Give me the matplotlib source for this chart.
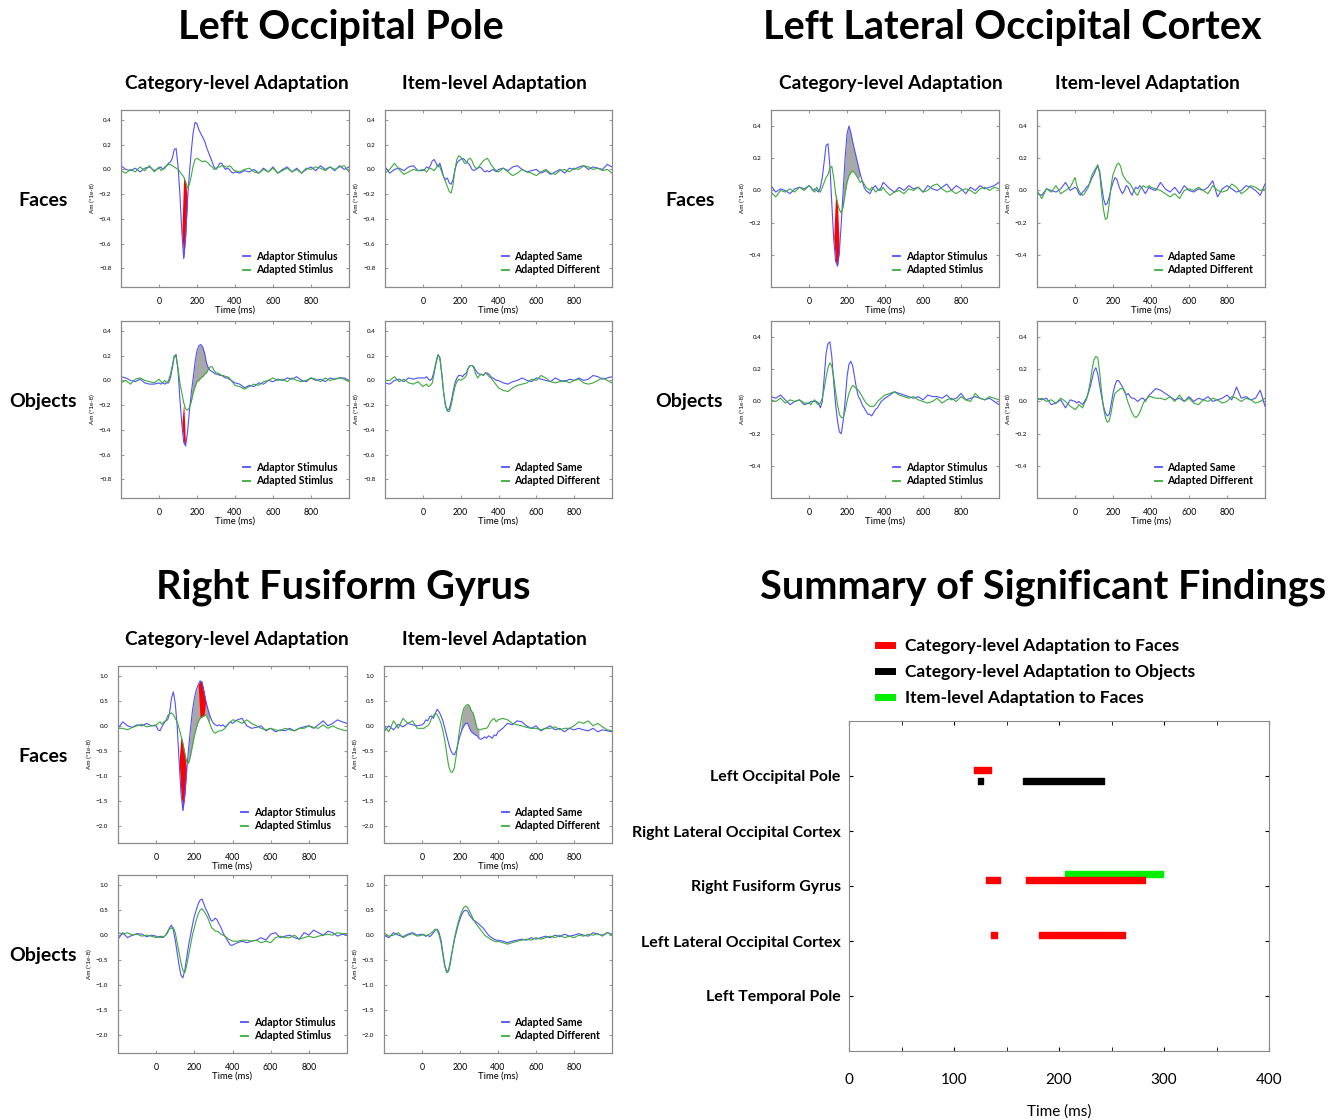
import numpy as np
import matplotlib
matplotlib.use('Agg')
import matplotlib.pyplot as plt
from matplotlib.lines import Line2D

plt.rcParams['font.family'] = ['Lato', 'DejaVu Sans']

# sample grid (ms): coarse before 0, 10 ms through the response, coarse after 400
T_MS = np.concatenate([np.arange(-200, 0, 25), np.arange(0, 401, 10), np.arange(425, 1001, 25)])

# ---- Left Occipital Pole ----
LOP_FACE_CAT_ADAPTOR = [
    0.03, 0.00, -0.01, 0.01, -0.02, 0.01, 0.02, -0.01,
    0.01, 0.02, 0.00, 0.01, 0.03, 0.05, 0.06, 0.09, 0.16, 0.17,
    0.03, -0.20, -0.50, -0.72, -0.55, -0.25, -0.03, 0.15, 0.30, 0.38,
    0.37, 0.32, 0.29, 0.26, 0.23, 0.18, 0.14, 0.10, 0.06, 0.02,
    0.00, 0.02, 0.05, 0.05, 0.02, 0.00, 0.01, 0.00, -0.02, -0.03,
    -0.02,
    -0.03, -0.01, -0.02, 0.00, -0.03, 0.01, -0.02, 0.02, -0.03, 0.00, 0.02, -0.02,
    0.01, -0.03, 0.00, 0.02, -0.01, 0.03, 0.00, 0.02, -0.01, 0.03, 0.00, 0.02]
LOP_FACE_CAT_ADAPTED = [
    -0.01, -0.03, 0.00, -0.02, 0.02, -0.01, 0.03, -0.02,
    0.02, -0.01, 0.00, 0.02, 0.03, 0.04, 0.04, 0.03, 0.02, 0.01,
    0.00, -0.02, -0.04, -0.06, -0.10, -0.15, -0.12, -0.05, 0.03, 0.08,
    0.09, 0.08, 0.07, 0.06, 0.07, 0.06, 0.05, 0.03, 0.02, 0.00,
    0.01, 0.02, 0.02, 0.03, 0.03, 0.02, 0.02, 0.03, 0.02, 0.00,
    -0.01,
    -0.02, 0.00, 0.01, -0.02, -0.03, 0.00, -0.02, 0.01, -0.03, -0.01, 0.01, -0.02,
    0.00, -0.03, 0.01, 0.00, 0.02, 0.01, -0.01, 0.02, 0.00, 0.02, 0.03, -0.02]
LOP_FACE_ITEM_SAME = [
    0.02, -0.03, 0.00, 0.01, -0.01, 0.02, 0.03, -0.01,
    -0.01, 0.00, 0.02, 0.01, 0.03, 0.07, 0.08, 0.05, 0.02, 0.05,
    0.00, -0.06, -0.08, -0.07, -0.11, -0.12, -0.08, 0.00, 0.05, 0.07,
    0.08, 0.09, 0.08, 0.06, 0.05, 0.03, 0.00, -0.01, 0.00, 0.01,
    0.02, 0.01, -0.01, -0.02, -0.01, -0.02, -0.01, 0.00, -0.01, -0.02,
    0.00,
    0.01, -0.01, 0.02, 0.03, 0.00, -0.02, -0.01, 0.00, -0.03, -0.01, -0.04, -0.02,
    0.00, -0.03, 0.01, 0.00, 0.02, 0.03, 0.00, 0.02, 0.01, 0.00, 0.04, 0.02]
LOP_FACE_ITEM_DIFF = [
    -0.03, 0.00, 0.05, 0.00, -0.04, -0.02, 0.00, -0.01,
    0.00, -0.01, -0.02, 0.00, 0.01, 0.00, -0.01, 0.01, 0.04, 0.02,
    -0.02, -0.06, -0.10, -0.14, -0.18, -0.19, -0.12, 0.00, 0.08, 0.11,
    0.10, 0.08, 0.05, 0.05, 0.08, 0.09, 0.07, 0.03, 0.01, 0.01,
    0.03, 0.05, 0.07, 0.08, 0.09, 0.07, 0.04, 0.02, 0.00, -0.01,
    -0.02,
    0.01, -0.02, -0.05, -0.03, 0.00, -0.02, -0.03, -0.05, -0.02, 0.00, -0.03, -0.04,
    -0.01, 0.00, -0.02, 0.01, 0.00, 0.03, 0.02, 0.00, 0.01, -0.01, 0.00, -0.03]
LOP_OBJ_CAT_ADAPTOR = [
    0.03, 0.02, 0.00, -0.01, 0.01, -0.02, -0.03, -0.03,
    -0.02, -0.03, -0.02, -0.03, -0.02, -0.02, 0.02, 0.10, 0.19, 0.21,
    0.08, -0.15, -0.35, -0.50, -0.53, -0.42, -0.25, -0.10, 0.02, 0.15,
    0.24, 0.28, 0.29, 0.27, 0.22, 0.14, 0.10, 0.08, 0.07, 0.06,
    0.05, 0.05, 0.04, 0.04, 0.03, 0.02, 0.02, 0.01, 0.00, -0.01,
    -0.02,
    -0.03, -0.06, -0.04, -0.05, -0.02, -0.03, 0.00, -0.01, 0.01, 0.00, 0.02, 0.01,
    0.03, 0.00, -0.01, 0.02, 0.00, 0.01, -0.01, 0.02, 0.01, 0.02, 0.02, 0.00]
LOP_OBJ_CAT_ADAPTED = [
    -0.02, 0.00, -0.03, 0.01, 0.02, 0.00, -0.01, -0.02,
    0.01, -0.01, -0.02, 0.00, -0.02, 0.00, 0.05, 0.12, 0.20, 0.19,
    0.10, -0.02, -0.10, -0.18, -0.23, -0.24, -0.22, -0.17, -0.10, -0.05,
    -0.01, 0.00, 0.02, 0.03, 0.05, 0.06, 0.09, 0.11, 0.11, 0.08,
    0.06, 0.06, 0.05, 0.04, 0.04, 0.03, 0.03, 0.02, 0.00, -0.02,
    -0.04,
    -0.05, -0.07, -0.05, -0.03, -0.04, -0.01, 0.00, 0.02, 0.00, 0.01, -0.01, 0.02,
    0.00, -0.01, 0.00, 0.02, 0.01, -0.01, 0.02, 0.00, 0.01, 0.02, 0.01, -0.01]
LOP_OBJ_ITEM_SAME = [
    -0.02, -0.03, 0.00, 0.01, -0.01, 0.02, 0.01, 0.02,
    0.02, 0.02, 0.03, 0.01, 0.00, 0.02, 0.08, 0.15, 0.21, 0.18,
    0.05, -0.10, -0.20, -0.24, -0.23, -0.17, -0.09, -0.02, 0.02, 0.04,
    0.04, 0.03, 0.05, 0.06, 0.10, 0.12, 0.12, 0.11, 0.08, 0.06,
    0.05, 0.05, 0.04, 0.06, 0.06, 0.05, 0.03, 0.02, 0.01, 0.00,
    0.00,
    -0.02, -0.03, -0.01, 0.00, 0.02, 0.00, -0.01, 0.02, 0.01, 0.00, -0.01, 0.02,
    0.00, -0.01, 0.01, 0.00, 0.02, 0.00, 0.01, 0.04, 0.03, 0.01, 0.02, 0.03]
LOP_OBJ_ITEM_DIFF = [
    0.00, 0.00, 0.03, -0.01, 0.01, -0.02, -0.03, -0.01,
    -0.05, -0.04, -0.03, -0.05, -0.04, -0.02, 0.06, 0.14, 0.20, 0.19,
    0.06, -0.10, -0.21, -0.25, -0.25, -0.20, -0.12, -0.05, -0.01, 0.01,
    0.00, 0.01, 0.02, 0.04, 0.10, 0.12, 0.12, 0.10, 0.05, 0.02,
    0.04, 0.05, 0.04, 0.06, 0.05, 0.03, 0.02, 0.00, -0.02, -0.04,
    -0.06,
    -0.08, -0.09, -0.06, -0.04, -0.03, -0.02, 0.01, 0.00, 0.04, 0.02, -0.01, -0.02,
    -0.01, 0.00, -0.02, 0.00, 0.01, -0.02, -0.03, -0.02, 0.00, 0.02, 0.00, -0.02]

# ---- Left Lateral Occipital Cortex ----
LLOC_FACE_CAT_ADAPTOR = [
    0.03, -0.01, 0.01, 0.00, -0.02, 0.01, 0.02, 0.01,
    0.03, 0.02, 0.00, 0.01, 0.00, -0.01, 0.02, 0.08, 0.18, 0.28,
    0.29, 0.15, -0.08, -0.30, -0.44, -0.47, -0.38, -0.20, 0.00, 0.20,
    0.35, 0.40, 0.36, 0.30, 0.25, 0.20, 0.15, 0.10, 0.06, 0.02,
    0.00, -0.01, -0.02, 0.00, 0.02, 0.03, 0.01, 0.00, 0.02, 0.05,
    0.04,
    0.01, -0.01, 0.02, 0.00, 0.03, 0.01, 0.02, -0.01, 0.03, 0.01, 0.00, 0.02,
    0.04, 0.00, 0.03, 0.01, -0.02, 0.02, 0.00, 0.03, 0.01, 0.02, 0.03, 0.05]
LLOC_FACE_CAT_ADAPTED = [
    -0.01, -0.04, 0.00, -0.01, 0.01, -0.01, 0.02, 0.00,
    0.03, 0.02, 0.00, -0.01, 0.02, 0.00, -0.01, 0.02, 0.05, 0.08,
    0.10, 0.14, 0.15, 0.08, -0.02, -0.08, -0.12, -0.14, -0.10, -0.02,
    0.05, 0.09, 0.11, 0.12, 0.11, 0.09, 0.07, 0.05, 0.06, 0.04,
    0.02, 0.01, 0.00, 0.02, 0.01, -0.01, 0.00, 0.01, 0.00, 0.02,
    0.00,
    -0.03, -0.01, 0.00, -0.02, 0.01, 0.00, 0.02, -0.01, 0.00, 0.03, 0.04, 0.01,
    -0.01, 0.00, -0.02, 0.00, 0.01, 0.00, -0.02, 0.01, 0.02, 0.00, 0.02, 0.01]
LLOC_FACE_ITEM_SAME = [
    -0.02, -0.03, 0.01, 0.00, -0.01, 0.01, 0.05, 0.00,
    0.02, 0.01, -0.02, -0.03, -0.01, 0.00, 0.02, 0.03, 0.05, 0.08,
    0.10, 0.13, 0.15, 0.12, 0.03, -0.05, -0.09, -0.08, -0.04, 0.01,
    0.05, 0.08, 0.07, 0.03, 0.00, -0.02, 0.00, 0.03, 0.02, -0.01,
    -0.03, 0.00, 0.02, 0.01, 0.03, 0.02, 0.00, -0.02, 0.00, 0.02,
    0.01,
    0.00, 0.05, 0.01, -0.01, 0.02, -0.02, 0.03, 0.00, -0.01, 0.01, 0.00, 0.02,
    0.06, -0.04, 0.01, 0.03, 0.01, -0.01, 0.00, 0.03, 0.02, 0.00, -0.03, 0.04]
LLOC_FACE_ITEM_DIFF = [
    0.00, -0.05, 0.01, -0.01, 0.03, -0.02, 0.00, 0.02,
    0.08, 0.03, 0.00, -0.02, -0.03, -0.02, 0.00, 0.02, 0.06, 0.10,
    0.12, 0.14, 0.16, 0.10, -0.02, -0.12, -0.18, -0.17, -0.08, 0.03,
    0.10, 0.13, 0.16, 0.17, 0.15, 0.10, 0.08, 0.06, 0.05, 0.04,
    0.02, 0.00, -0.02, -0.03, 0.00, 0.02, 0.03, 0.02, 0.02, 0.03,
    0.02,
    0.01, 0.00, -0.02, -0.04, -0.02, -0.05, 0.00, 0.01, 0.00, 0.02, 0.00, -0.02,
    0.03, 0.00, -0.01, 0.00, 0.04, 0.02, -0.02, 0.00, 0.03, 0.02, 0.00, 0.01]
LLOC_OBJ_CAT_ADAPTOR = [
    0.03, 0.02, 0.04, 0.01, -0.02, 0.00, 0.01, -0.02,
    -0.01, 0.00, 0.00, 0.00, 0.00, -0.01, -0.04, 0.00, 0.15, 0.30,
    0.36, 0.37, 0.28, 0.12, -0.02, -0.12, -0.19, -0.20, -0.12, 0.00,
    0.15, 0.23, 0.25, 0.22, 0.15, 0.08, 0.03, 0.01, -0.02, -0.04,
    -0.06, -0.08, -0.08, -0.09, -0.07, -0.05, -0.04, -0.02, 0.00, 0.01,
    0.02,
    0.04, 0.06, 0.05, 0.04, 0.03, 0.02, 0.03, 0.01, 0.04, 0.03, 0.03, 0.02,
    0.04, 0.01, 0.02, 0.05, 0.01, 0.02, 0.03, 0.02, 0.01, 0.02, 0.00, -0.02]
LLOC_OBJ_CAT_ADAPTED = [
    0.01, 0.00, 0.02, -0.01, 0.01, 0.00, 0.01, -0.01,
    -0.01, -0.02, 0.00, 0.01, -0.01, -0.02, -0.01, 0.02, 0.08, 0.15,
    0.21, 0.24, 0.22, 0.15, 0.06, -0.02, -0.08, -0.10, -0.10, -0.06,
    0.00, 0.05, 0.08, 0.10, 0.09, 0.08, 0.07, 0.05, 0.03, 0.01,
    -0.01, -0.02, -0.03, -0.03, -0.03, -0.02, 0.00, 0.01, 0.02, 0.03,
    0.04,
    0.05, 0.06, 0.04, 0.03, 0.02, 0.03, 0.01, 0.00, -0.01, 0.00, 0.02, -0.01,
    0.01, 0.02, 0.00, 0.03, 0.01, 0.00, 0.05, 0.02, 0.01, 0.03, 0.02, 0.01]
LLOC_OBJ_ITEM_SAME = [
    0.02, 0.01, 0.02, -0.02, -0.01, 0.01, -0.04, 0.01,
    0.00, -0.01, 0.00, -0.01, -0.02, 0.00, 0.02, 0.05, 0.09, 0.14,
    0.19, 0.21, 0.17, 0.10, 0.03, -0.03, -0.07, -0.09, -0.08, -0.02,
    0.05, 0.10, 0.13, 0.13, 0.11, 0.09, 0.06, 0.04, 0.05, 0.03,
    0.02, 0.02, 0.01, 0.00, 0.01, 0.02, 0.02, 0.00, 0.02, 0.04,
    0.05,
    0.08, 0.07, 0.05, 0.03, 0.01, 0.02, 0.00, 0.03, 0.00, 0.02, 0.01, 0.03,
    0.00, 0.01, 0.02, 0.04, 0.01, 0.09, 0.02, 0.03, 0.01, 0.02, 0.07, -0.03]
LLOC_OBJ_ITEM_DIFF = [
    0.01, 0.02, 0.00, 0.01, -0.01, 0.02, 0.00, -0.03,
    -0.05, -0.04, -0.02, -0.03, -0.04, -0.01, 0.01, 0.06, 0.12, 0.20,
    0.26, 0.28, 0.27, 0.18, 0.06, -0.04, -0.10, -0.13, -0.12, -0.07,
    0.00, 0.05, 0.06, 0.07, 0.08, 0.08, 0.07, 0.03, -0.01, -0.04,
    -0.07, -0.09, -0.10, -0.09, -0.07, -0.04, -0.01, 0.01, 0.02, 0.03,
    0.03,
    0.02, 0.02, 0.01, 0.03, 0.00, 0.04, 0.00, 0.02, -0.01, -0.02, 0.01, 0.00,
    0.02, 0.01, -0.01, 0.00, 0.03, 0.02, 0.00, 0.02, 0.01, -0.01, 0.00, 0.02]

# ---- Right Fusiform Gyrus ----
RFG_FACE_CAT_ADAPTOR = [
    -0.05, 0.08, 0.00, -0.03, 0.02, 0.00, 0.05, 0.00,
    0.00, -0.08, -0.10, -0.02, 0.05, 0.10, 0.12, 0.25, 0.55, 0.68,
    0.45, 0.00, -0.70, -1.35, -1.70, -1.40, -0.90, -0.45, -0.05, 0.30,
    0.55, 0.72, 0.82, 0.90, 0.88, 0.70, 0.50, 0.35, 0.22, 0.12,
    0.05, 0.02, 0.00, 0.02, 0.00, 0.02, -0.02, 0.00, 0.05, 0.08,
    0.05,
    0.12, 0.15, 0.00, -0.05, -0.03, 0.00, -0.10, -0.05, -0.12, -0.08, -0.10, -0.05,
    -0.10, -0.05, -0.02, 0.00, -0.05, 0.02, 0.10, 0.00, 0.05, 0.12, 0.08, 0.05]
RFG_FACE_CAT_ADAPTED = [
    -0.05, -0.05, -0.08, -0.03, 0.00, 0.03, -0.02, 0.00,
    0.02, 0.05, 0.08, 0.03, 0.08, 0.10, 0.20, 0.24, 0.26, 0.22,
    0.15, 0.08, -0.05, -0.20, -0.35, -0.55, -0.72, -0.75, -0.60, -0.40,
    -0.20, -0.05, 0.08, 0.15, 0.18, 0.20, 0.22, 0.15, 0.05, -0.05,
    -0.12, -0.15, -0.12, -0.10, -0.10, -0.08, -0.05, 0.00, 0.05, 0.08,
    0.12,
    0.10, 0.05, 0.12, 0.05, 0.00, -0.05, -0.08, -0.05, -0.08, -0.10, -0.05, -0.08,
    -0.10, -0.05, -0.05, 0.00, -0.03, -0.05, 0.02, -0.05, 0.00, -0.05, -0.08, -0.10]
RFG_FACE_ITEM_SAME = [
    -0.12, 0.00, -0.08, 0.03, -0.02, 0.05, 0.02, 0.00,
    0.02, 0.05, 0.12, 0.10, 0.18, 0.20, 0.15, 0.25, 0.33, 0.28,
    0.20, 0.10, -0.05, -0.20, -0.35, -0.48, -0.56, -0.58, -0.50, -0.35,
    -0.20, -0.08, 0.00, 0.05, 0.05, -0.05, -0.12, -0.15, -0.18, -0.20,
    -0.25, -0.27, -0.25, -0.22, -0.25, -0.20, -0.22, -0.25, -0.18, -0.20,
    -0.12,
    -0.05, 0.05, 0.02, 0.10, 0.08, 0.00, -0.05, 0.00, -0.10, -0.05, 0.00, -0.08,
    -0.05, -0.12, -0.05, -0.08, -0.05, -0.08, -0.10, -0.05, -0.12, -0.08, -0.10, -0.12]
RFG_FACE_ITEM_DIFF = [
    0.00, -0.12, 0.10, -0.05, 0.15, 0.05, 0.10, -0.05,
    -0.05, -0.05, -0.02, 0.00, 0.05, 0.15, 0.20, 0.25, 0.22, 0.15,
    0.05, -0.10, -0.30, -0.55, -0.80, -0.92, -0.93, -0.85, -0.60, -0.30,
    -0.02, 0.20, 0.35, 0.40, 0.43, 0.40, 0.30, 0.25, 0.10, -0.05,
    -0.08, -0.08, -0.06, -0.05, -0.05, 0.00, 0.08, 0.12, 0.15, 0.08,
    0.12,
    0.15, 0.12, 0.05, 0.02, 0.00, -0.03, -0.05, -0.05, -0.08, -0.05, -0.05, -0.02,
    -0.08, -0.05, -0.05, 0.00, 0.08, 0.05, 0.10, 0.00, 0.05, -0.02, -0.08, -0.10]
RFG_OBJ_CAT_ADAPTOR = [
    -0.08, 0.05, -0.05, 0.00, 0.03, 0.02, -0.03, 0.00,
    -0.02, -0.04, -0.02, -0.05, -0.03, 0.00, 0.05, 0.15, 0.20, 0.10,
    -0.10, -0.35, -0.60, -0.80, -0.85, -0.70, -0.45, -0.20, 0.00, 0.20,
    0.38, 0.50, 0.62, 0.70, 0.72, 0.62, 0.52, 0.45, 0.35, 0.28,
    0.30, 0.34, 0.30, 0.22, 0.15, 0.05, -0.02, -0.08, -0.15, -0.20,
    -0.20,
    -0.15, -0.12, -0.15, -0.12, -0.10, -0.05, -0.10, 0.02, 0.05, -0.05, -0.02, 0.00,
    -0.05, -0.08, 0.05, 0.00, 0.10, 0.05, 0.00, 0.08, 0.05, -0.02, 0.02, 0.00]
RFG_OBJ_CAT_ADAPTED = [
    0.05, 0.02, 0.05, 0.00, 0.02, -0.02, 0.00, -0.02,
    -0.05, -0.03, -0.05, -0.02, -0.04, 0.00, 0.08, 0.12, 0.14, 0.15,
    0.05, -0.15, -0.35, -0.55, -0.70, -0.75, -0.60, -0.40, -0.20, 0.00,
    0.15, 0.30, 0.42, 0.50, 0.53, 0.48, 0.42, 0.35, 0.25, 0.15,
    0.12, 0.08, 0.08, 0.05, 0.02, 0.00, -0.02, -0.05, -0.08, -0.10,
    -0.12,
    -0.12, -0.10, -0.10, -0.12, -0.10, -0.15, -0.12, -0.15, -0.05, -0.02, -0.05, -0.05,
    0.00, -0.08, -0.05, -0.02, -0.05, -0.02, 0.00, 0.02, 0.00, 0.05, 0.03, 0.03]
RFG_OBJ_ITEM_SAME = [
    0.00, -0.05, 0.05, 0.00, -0.03, 0.02, 0.05, 0.00,
    0.02, 0.00, -0.02, 0.00, -0.03, 0.00, 0.05, 0.10, 0.12, 0.05,
    -0.10, -0.35, -0.60, -0.72, -0.70, -0.50, -0.30, -0.10, 0.05, 0.20,
    0.32, 0.42, 0.48, 0.50, 0.48, 0.40, 0.35, 0.30, 0.28, 0.25,
    0.22, 0.18, 0.15, 0.10, 0.05, 0.00, -0.03, -0.06, -0.08, -0.10,
    -0.10,
    -0.12, -0.15, -0.12, -0.10, -0.08, -0.10, -0.05, -0.08, -0.05, -0.02, -0.05, 0.00,
    -0.03, 0.02, -0.02, 0.00, 0.03, 0.00, -0.02, 0.05, 0.02, 0.00, 0.05, 0.02]
RFG_OBJ_ITEM_DIFF = [
    0.05, -0.02, 0.00, 0.05, -0.05, 0.00, 0.03, -0.02,
    0.00, 0.02, -0.02, 0.00, 0.02, 0.05, 0.08, 0.12, 0.10, 0.00,
    -0.15, -0.40, -0.62, -0.75, -0.72, -0.55, -0.30, -0.08, 0.10, 0.25,
    0.38, 0.48, 0.55, 0.58, 0.55, 0.48, 0.40, 0.32, 0.25, 0.20,
    0.15, 0.10, 0.05, 0.00, -0.03, -0.05, -0.08, -0.10, -0.12, -0.13,
    -0.12,
    -0.15, -0.18, -0.15, -0.12, -0.10, -0.08, -0.10, -0.05, -0.08, -0.05, -0.02, -0.05,
    0.00, -0.05, -0.02, -0.05, 0.00, -0.02, 0.02, 0.00, 0.03, -0.02, 0.05, 0.00]

# significant windows (ms) marked on the waveforms
LOP_FACE_CAT_RED = [(122, 142)]
LOP_OBJ_CAT_RED = [(125, 132)]
LOP_OBJ_CAT_GRAY = [(168, 250)]
LLOC_FACE_CAT_RED = [(136, 150)]
LLOC_FACE_CAT_GRAY = [(180, 268)]
RFG_FACE_CAT_RED = [(126, 150), (230, 250)]
RFG_FACE_CAT_GRAY = [(165, 285)]
RFG_FACE_ITEM_GRAY = [(205, 300)]

# summary of significant findings
SUMMARY_REGIONS = ['Left Occipital Pole', 'Right Lateral Occipital Cortex', 'Right Fusiform Gyrus',
                   'Left Lateral Occipital Cortex', 'Left Temporal Pole']
FACE_CAT_REGION = ['Left Occipital Pole', 'Right Fusiform Gyrus', 'Right Fusiform Gyrus',
                   'Left Lateral Occipital Cortex', 'Left Lateral Occipital Cortex']
FACE_CAT_START = [119, 130, 169, 135, 181]
FACE_CAT_END = [135, 144, 282, 141, 263]
OBJ_CAT_REGION = ['Left Occipital Pole', 'Left Occipital Pole']
OBJ_CAT_START = [123, 166]
OBJ_CAT_END = [128, 243]
FACE_ITEM_REGION = ['Right Fusiform Gyrus']
FACE_ITEM_START = [206]
FACE_ITEM_END = [299]

BLUE = '#5050ff'
GREEN = '#3caa3c'
W, H = 1344, 1120

fig = plt.figure(figsize=(W / 100, H / 100), dpi=100)


def box(x0, y0, x1, y1):
    return [x0 / W, 1 - y1 / H, (x1 - x0) / W, (y1 - y0) / H]


def wave(rect, blue, green, names, ylim, yticks, red=(), gray=()):
    assert len(blue) == len(T_MS) and len(green) == len(T_MS)
    ax = fig.add_axes(box(*rect))
    b = np.array(blue)
    g = np.array(green)
    for a0, a1 in gray:
        m = (T_MS >= a0) & (T_MS <= a1)
        ax.fill_between(T_MS, b, g, where=m, color='#a8a8a8', lw=0, interpolate=True)
    for a0, a1 in red:
        m = (T_MS >= a0) & (T_MS <= a1)
        ax.fill_between(T_MS, b, g, where=m, color='#ff0000', lw=0, interpolate=True)
    ax.plot(T_MS, b, color=BLUE, lw=0.8)
    ax.plot(T_MS, g, color=GREEN, lw=0.8)
    ax.set_xlim(-200, 1000)
    ax.set_ylim(*ylim)
    ax.set_xticks([0, 200, 400, 600, 800])
    ax.set_yticks(yticks)
    ax.set_yticklabels(['{:.1f}'.format(v).replace('-', '\u2212') for v in yticks])
    ax.tick_params(axis='x', direction='in', length=2, top=True, labelsize=6.3, pad=7, color='#999999')
    ax.tick_params(axis='y', direction='in', length=2, right=True, labelsize=4.5, pad=7, color='#999999')
    for s in ax.spines.values():
        s.set_color('#8a8a8a')
        s.set_linewidth(0.9)
    ax.set_xlabel('Time (ms)', fontsize=6.8, labelpad=0)
    ax.set_ylabel('Am (*1e-8)', fontsize=4.5, labelpad=3)
    handles = [Line2D([], [], color=BLUE, lw=1.3), Line2D([], [], color=GREEN, lw=1.3)]
    ax.legend(handles, names, loc='lower right', frameon=False, handlelength=0.7, handletextpad=0.5,
              labelspacing=0.25, borderaxespad=0.7, prop={'size': 7.6, 'weight': 'bold'})
    return ax


LOP_Y = (-0.95, 0.48)
LOP_TICKS = [-0.8, -0.6, -0.4, -0.2, 0.0, 0.2, 0.4]
LLOC_Y = (-0.6, 0.5)
LLOC_TICKS = [-0.4, -0.2, 0.0, 0.2, 0.4]
RFG_Y = (-2.35, 1.2)
RFG_TICKS = [-2.0, -1.5, -1.0, -0.5, 0.0, 0.5, 1.0]
CAT_NAMES = ['Adaptor Stimulus', 'Adapted Stimlus']
ITEM_NAMES = ['Adapted Same', 'Adapted Different']

# Left Occipital Pole
wave((121, 110, 349, 287), LOP_FACE_CAT_ADAPTOR, LOP_FACE_CAT_ADAPTED, CAT_NAMES, LOP_Y, LOP_TICKS,
     red=LOP_FACE_CAT_RED)
wave((385, 110, 612, 287), LOP_FACE_ITEM_SAME, LOP_FACE_ITEM_DIFF, ITEM_NAMES, LOP_Y, LOP_TICKS)
wave((121, 321, 349, 498), LOP_OBJ_CAT_ADAPTOR, LOP_OBJ_CAT_ADAPTED, CAT_NAMES, LOP_Y, LOP_TICKS,
     red=LOP_OBJ_CAT_RED, gray=LOP_OBJ_CAT_GRAY)
wave((385, 321, 612, 498), LOP_OBJ_ITEM_SAME, LOP_OBJ_ITEM_DIFF, ITEM_NAMES, LOP_Y, LOP_TICKS)

# Left Lateral Occipital Cortex
wave((771, 110, 999, 287), LLOC_FACE_CAT_ADAPTOR, LLOC_FACE_CAT_ADAPTED, CAT_NAMES, LLOC_Y, LLOC_TICKS,
     red=LLOC_FACE_CAT_RED, gray=LLOC_FACE_CAT_GRAY)
wave((1037, 110, 1265, 287), LLOC_FACE_ITEM_SAME, LLOC_FACE_ITEM_DIFF, ITEM_NAMES, LLOC_Y, LLOC_TICKS)
wave((771, 321, 999, 498), LLOC_OBJ_CAT_ADAPTOR, LLOC_OBJ_CAT_ADAPTED, CAT_NAMES, LLOC_Y, LLOC_TICKS)
wave((1037, 321, 1265, 498), LLOC_OBJ_ITEM_SAME, LLOC_OBJ_ITEM_DIFF, ITEM_NAMES, LLOC_Y, LLOC_TICKS)

# Right Fusiform Gyrus
wave((118, 666, 347, 843), RFG_FACE_CAT_ADAPTOR, RFG_FACE_CAT_ADAPTED, CAT_NAMES, RFG_Y, RFG_TICKS,
     red=RFG_FACE_CAT_RED, gray=RFG_FACE_CAT_GRAY)
wave((384, 666, 612, 843), RFG_FACE_ITEM_SAME, RFG_FACE_ITEM_DIFF, ITEM_NAMES, RFG_Y, RFG_TICKS,
     gray=RFG_FACE_ITEM_GRAY)
wave((118, 875, 347, 1053), RFG_OBJ_CAT_ADAPTOR, RFG_OBJ_CAT_ADAPTED, CAT_NAMES, RFG_Y, RFG_TICKS)
wave((384, 875, 612, 1053), RFG_OBJ_ITEM_SAME, RFG_OBJ_ITEM_DIFF, ITEM_NAMES, RFG_Y, RFG_TICKS)


def ftext(x, y, s, size):
    fig.text(x / W, 1 - y / H, s, ha='center', va='center', fontsize=size, fontweight='bold')


ftext(341, 27, 'Left Occipital Pole', 28.5)
ftext(1012, 27, 'Left Lateral Occipital Cortex', 28.5)
ftext(343, 587, 'Right Fusiform Gyrus', 28.5)
ftext(1043, 587, 'Summary of Significant Findings', 28.5)
for cx, cy in [(237, 84), (891, 84), (237, 640)]:
    ftext(cx, cy, 'Category-level Adaptation', 13.7)
for cx, cy in [(494, 84), (1147, 84), (494, 640)]:
    ftext(cx, cy, 'Item-level Adaptation', 13.7)
for cx, cy in [(43, 201), (690, 201), (43, 756)]:
    ftext(cx, cy, 'Faces', 14)
for cx, cy in [(43, 401), (689, 401), (43, 955)]:
    ftext(cx, cy, 'Objects', 14)

# summary chart
ax = fig.add_axes(box(849, 721, 1269, 1051))
ypos = {name: len(SUMMARY_REGIONS) - i for i, name in enumerate(SUMMARY_REGIONS)}
bar_h = 0.11
for reg, s, e in zip(FACE_ITEM_REGION, FACE_ITEM_START, FACE_ITEM_END):
    ax.broken_barh([(s, e - s)], (ypos[reg] + 0.21 - bar_h / 2, bar_h), color='#00ee00')
for reg, s, e in zip(FACE_CAT_REGION, FACE_CAT_START, FACE_CAT_END):
    ax.broken_barh([(s, e - s)], (ypos[reg] + 0.115 - bar_h / 2, bar_h), color='#ff0000')
for reg, s, e in zip(OBJ_CAT_REGION, OBJ_CAT_START, OBJ_CAT_END):
    ax.broken_barh([(s, e - s)], (ypos[reg] - 0.085 - bar_h / 2, bar_h), color='#000000')
ax.set_xlim(0, 400)
ax.set_ylim(0, 6)
ax.set_xticks([0, 100, 200, 300, 400])
ax.set_xticks([50, 150, 250, 350], minor=True)
ax.set_yticks([ypos[n] for n in SUMMARY_REGIONS])
ax.set_yticklabels(SUMMARY_REGIONS, fontsize=11.4, fontweight='bold')
ax.tick_params(axis='x', which='both', direction='in', length=3, top=True, labelsize=11, pad=16)
ax.tick_params(axis='y', direction='in', length=3, right=True, pad=6)
for s in ax.spines.values():
    s.set_color('#8a8a8a')
ax.set_xlabel('Time (ms)', fontsize=11, labelpad=12)

handles = [Line2D([], [], color='#ff0000', lw=5),
           Line2D([], [], color='#000000', lw=5),
           Line2D([], [], color='#00ee00', lw=5)]
fig.legend(handles, ['Category-level Adaptation to Faces', 'Category-level Adaptation to Objects',
                     'Item-level Adaptation to Faces'],
           loc='upper left', bbox_to_anchor=(862 / W, 1 - 622 / H), frameon=False,
           handlelength=0.8, handletextpad=0.75, labelspacing=0.6,
           prop={'size': 12.5, 'weight': 'bold'})

fig.savefig('out.png', dpi=100)
